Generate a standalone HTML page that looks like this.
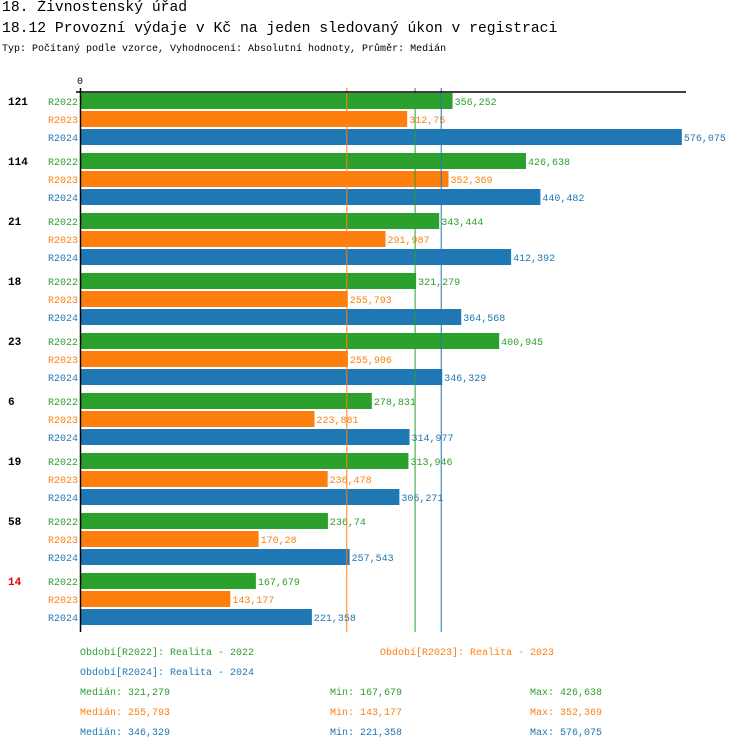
<!DOCTYPE html>
<html><head><meta charset="utf-8"><style>
body{margin:0;background:#fff;width:750px;height:752px;overflow:hidden;font-family:"Liberation Mono",monospace}
.t{position:absolute;white-space:nowrap}
</style></head><body>
<div class="t" style="left:2px;top:0px;font-size:14.7px">18. Živnostenský úřad</div>
<div class="t" style="left:2px;top:21px;font-size:14.7px">18.12 Provozní výdaje v Kč na jeden sledovaný úkon v registraci</div>
<div class="t" style="left:2px;top:44px;font-size:10px">Typ: Počítaný podle vzorce, Vyhodnocení: Absolutní hodnoty, Průměr: Medián</div>
<svg id="c" width="750" height="752" style="position:absolute;left:0;top:0" font-family="Liberation Mono, monospace" font-size="10"></svg>
<script>
const categories=["121","114","21","18","23","6","19","58","14"];
const r2022=[356252,426638,343444,321279,400945,278831,313946,236740,167679];
const r2023=[312750,352369,291987,255793,255906,223881,236478,170280,143177];
const r2024=[576075,440482,412392,364568,346329,314977,305271,257543,221358];
const labels2022=["356,252","426,638","343,444","321,279","400,945","278,831","313,946","236,74","167,679"];
const labels2023=["312,75","352,369","291,987","255,793","255,906","223,881","236,478","170,28","143,177"];
const labels2024=["576,075","440,482","412,392","364,568","346,329","314,977","305,271","257,543","221,358"];
const medians=[321279,255793,346329];
const series=[r2022,r2023,r2024],slabels=[labels2022,labels2023,labels2024];
const names=["R2022","R2023","R2024"],colors=["#2ca02c","#ff7f0e","#1f77b4"];
const svg=document.getElementById('c');const NS="http://www.w3.org/2000/svg";
const x0=81,k=0.001043;const X=v=>x0+v*k;
const Y=(g,s)=>93+g*60+s*18;
function mk(t,a,txt){const e=document.createElementNS(NS,t);for(const n in a)e.setAttribute(n,a[n]);if(txt!=null)e.textContent=txt;svg.appendChild(e);return e;}
categories.forEach((c,g)=>{
 const t=mk('text',{x:8,y:Y(g,0)+12,'font-weight':'bold','font-size':11,fill:g==8?'#e00':'#000'},c);
 
 
 series.forEach((s,i)=>{
  const l=mk('text',{x:78,y:Y(g,i)+12,'text-anchor':'end',fill:colors[i]},names[i]);
  
  
  const r=mk('rect',{x:x0,y:Y(g,i),width:X(s[g])-x0,height:16,fill:colors[i]});
  
  
  const v=mk('text',{x:X(s[g])+2,y:Y(g,i)+12,fill:colors[i]},slabels[i][g]);
  
  
 });
});
medians.forEach((m,i)=>{const l=mk('line',{x1:X(m)-1,x2:X(m)-1,y1:88,y2:632,stroke:colors[i],'stroke-width':1});
 
 });
const ax=mk('line',{x1:76,x2:686,y1:92,y2:92,stroke:'#000','stroke-width':1.5});


const ay=mk('line',{x1:80.5,x2:80.5,y1:88,y2:632,stroke:'#000','stroke-width':1.5});


const z=mk('text',{x:80,y:84,'text-anchor':'middle','font-size':10},'0');


</script>
<div style="position:absolute;left:0;top:0;font-size:10px">
<div class="t" style="left:80px;top:648px;color:#2ca02c">Období[R2022]: Realita - 2022</div>
<div class="t" style="left:380px;top:648px;color:#ff7f0e">Období[R2023]: Realita - 2023</div>
<div class="t" style="left:80px;top:668px;color:#1f77b4">Období[R2024]: Realita - 2024</div>
<div class="t" style="left:80px;top:688px;color:#2ca02c">Medián: 321,279</div>
<div class="t" style="left:330px;top:688px;color:#2ca02c">Min: 167,679</div>
<div class="t" style="left:530px;top:688px;color:#2ca02c">Max: 426,638</div>
<div class="t" style="left:80px;top:708px;color:#ff7f0e">Medián: 255,793</div>
<div class="t" style="left:330px;top:708px;color:#ff7f0e">Min: 143,177</div>
<div class="t" style="left:530px;top:708px;color:#ff7f0e">Max: 352,369</div>
<div class="t" style="left:80px;top:728px;color:#1f77b4">Medián: 346,329</div>
<div class="t" style="left:330px;top:728px;color:#1f77b4">Min: 221,358</div>
<div class="t" style="left:530px;top:728px;color:#1f77b4">Max: 576,075</div>
</div>
</body></html>
